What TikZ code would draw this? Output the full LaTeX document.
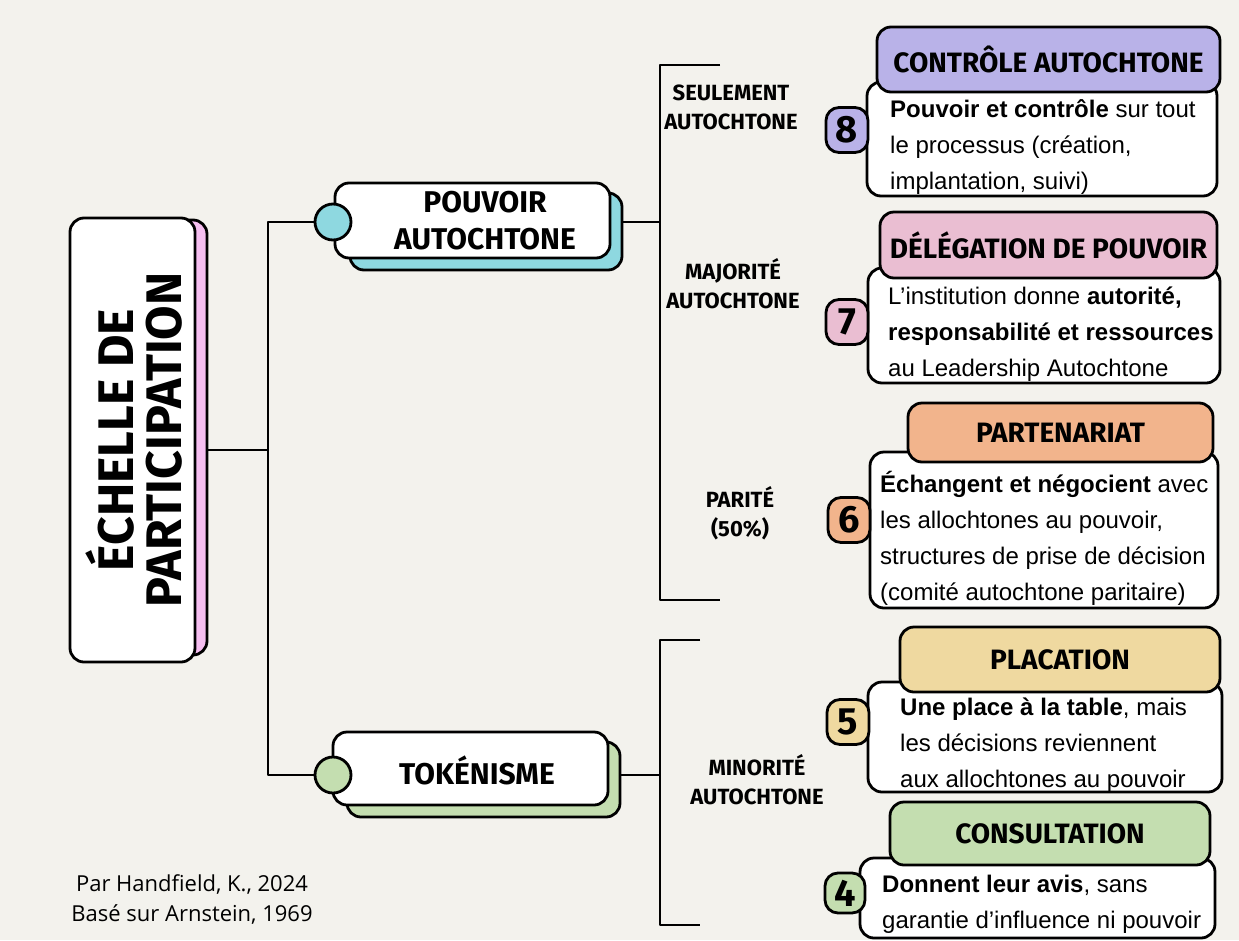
\documentclass[tikz,border=0pt]{standalone}
\usepackage{fontspec}
\setmainfont{Liberation Sans}
\newfontfamily\handfont{Fira Sans}
\newfontfamily\notefont{Open Sans}
\usepackage{tikz}
\usetikzlibrary{positioning}
\definecolor{paper}{RGB}{243,242,237}
\definecolor{violetbox}{RGB}{185,178,232}
\definecolor{pinkbox}{RGB}{234,190,210}
\definecolor{orangebox}{RGB}{242,180,140}
\definecolor{yellowbox}{RGB}{239,217,160}
\definecolor{greenbox}{RGB}{196,222,176}
\definecolor{tealbox}{RGB}{142,216,224}
\definecolor{pinkmain}{RGB}{245,190,240}
\tikzstyle{conn} = [line width=2.2pt, black]

\begin{document}
\begin{tikzpicture}[x=1pt, y=-1pt, line join=round]
	\tikzstyle{backbox}=[draw=black, line width=2.8pt, rounded corners=14pt, inner sep=0pt]
	\tikzstyle{mainbox}=[draw=black, fill=white, line width=2.8pt, rounded corners=14pt, inner sep=0pt]
	\tikzstyle{branchdot}=[circle, draw=black, line width=2.8pt, minimum size=36pt, inner sep=0pt]
	\tikzstyle{branchlabel}=[align=center, inner sep=0pt, font=\handfont\bfseries\fontsize{30}{37}\selectfont]
	\tikzstyle{cardhead}=[draw=black, line width=2.8pt, rounded corners=14pt, inner sep=0pt, font=\handfont\bfseries\fontsize{28}{30}\selectfont]
	\tikzstyle{cardbody}=[draw=black, fill=white, line width=2.8pt, rounded corners=14pt, inner sep=0pt]
	\tikzstyle{cardtext}=[anchor=west, align=left, inner sep=0pt, font=\fontsize{24}{36}\selectfont]
	\tikzstyle{badge}=[draw=black, line width=2.8pt, rounded corners=13pt, minimum width=42pt, minimum height=45pt, inner sep=0pt, font=\handfont\bfseries\fontsize{38}{38}\selectfont]
	\tikzstyle{levellabel}=[align=center, inner sep=0pt, font=\handfont\bfseries\fontsize{22}{29}\selectfont]
	\fill[paper] (0,0) rectangle (1239,940);
	\useasboundingbox (0,0) rectangle (1239,940);

	% echelle
	\node[backbox, fill=pinkmain, minimum width=125, minimum height=435] (mainback) at (144.5,437.5) {};
	\node[mainbox, minimum width=125, minimum height=444] (main) at (132.5,440)
		{\hspace*{14pt}\rotatebox{90}{\handfont\bfseries\fontsize{50}{42}\selectfont\begin{tabular}{@{}c@{}}ÉCHELLE DE\\PARTICIPATION\end{tabular}}};

	% deux branches
	\node[backbox, fill=tealbox, minimum width=272, minimum height=77] (pouvback) at (486,231.5) {};
	\node[mainbox, minimum width=275, minimum height=75] (pouv) at (472.5,220.5) {};
	\node[branchlabel] (pouvlabel) at (485,221) {POUVOIR\\AUTOCHTONE};
	\node[backbox, fill=greenbox, minimum width=273, minimum height=75] (tokback) at (483.5,779.5) {};
	\node[mainbox, minimum width=275, minimum height=73] (tok) at (470.5,768.5) {};
	\node[branchlabel] (toklabel) at (477,770) {TOKÉNISME};

	\coordinate (spine) at (268,450);
	\draw[conn] (spine -| mainback.east) -- (spine);
	\draw[conn] (333,222) -| (spine) |- (333,775);
	\node[branchdot, fill=tealbox] (pouvdot) at (333,222) {};
	\node[branchdot, fill=greenbox] (tokdot) at (333,775) {};

	% accolades
	\coordinate (brk1top) at (660,65);
	\coordinate (brk1bot) at (660,600);
	\coordinate (brk2top) at (660,640);
	\coordinate (brk2bot) at (660,925);
	\draw[conn] ([xshift=60pt]brk1top) -- (brk1top) -- (brk1bot) -- ([xshift=60pt]brk1bot);
	\draw[conn] ([xshift=40pt]brk2top) -- (brk2top) -- (brk2bot) -- ([xshift=40pt]brk2bot);
	\draw[conn] (pouvdot -| pouvback.east) -- (pouvdot -| brk1top);
	\draw[conn] (tokdot -| tokback.east) -- (tokdot -| brk2top);

	\node[levellabel] (lvl8) at (731,107) {SEULEMENT\\AUTOCHTONE};
	\node[levellabel] (lvl7) at (733,284) {MAJORITÉ\\AUTOCHTONE};
	\node[levellabel] (lvl6) at (740,513) {PARITÉ\\(50\%)};
	\node[levellabel] (lvl5) at (757,780) {MINORITÉ\\AUTOCHTONE};

	% echelons 8 a 4
	\node[cardbody, minimum width=350, minimum height=114] (body8) at (1042,139) {};
	\node[cardhead, fill=violetbox, minimum width=343, minimum height=65] (head8) at (1048.5,59.5) {CONTRÔLE AUTOCHTONE};
	\node[cardtext] (txt8) at (890,147) {\textbf{Pouvoir et contrôle} sur tout\\le processus (création,\\implantation, suivi)};
	\node[badge, fill=violetbox] (num8) at (847,130) {8};

	\node[cardbody, minimum width=352, minimum height=115] (body7) at (1044,325.5) {};
	\node[cardhead, fill=pinkbox, minimum width=337, minimum height=66] (head7) at (1048.5,245) {DÉLÉGATION DE POUVOIR};
	\node[cardtext] (txt7) at (888,334) {L’institution donne \textbf{autorité,}\\\textbf{responsabilité et ressources}\\au Leadership Autochtone};
	\node[badge, fill=pinkbox] (num7) at (847,322) {7};

	\node[cardbody, minimum width=348, minimum height=156] (body6) at (1044,530) {};
	\node[cardhead, fill=orangebox, minimum width=305, minimum height=59] (head6) at (1060.5,432.5) {PARTENARIAT};
	\node[cardtext] (txt6) at (880,538) {\textbf{Échangent et négocient} avec\\les allochtones au pouvoir,\\structures de prise de décision\\(comité autochtone paritaire)};
	\node[badge, fill=orangebox] (num6) at (849,520) {6};

	\node[cardbody, minimum width=354, minimum height=110] (body5) at (1045,737) {};
	\node[cardhead, fill=yellowbox, minimum width=320, minimum height=65] (head5) at (1060,659.5) {PLACATION};
	\node[cardtext] (txt5) at (900,745) {\textbf{Une place à la table}, mais\\les décisions reviennent\\aux allochtones au pouvoir};
	\node[badge, fill=yellowbox] (num5) at (848,722) {5};

	\node[cardbody, minimum width=355, minimum height=80] (body4) at (1037.5,898) {};
	\node[cardhead, fill=greenbox, minimum width=320, minimum height=63] (head4) at (1050,833.5) {CONSULTATION};
	\node[cardtext] (txt4) at (882,904) {\textbf{Donnent leur avis}, sans\\garantie d’influence ni pouvoir};
	\node[badge, fill=greenbox, minimum width=40pt, minimum height=40pt] (num4) at (845,893) {4};

	\node[align=center, font=\notefont\fontsize{22}{30}\selectfont] (credit) at (192,899) {Par Handfield, K., 2024\\Basé sur Arnstein, 1969};
\end{tikzpicture}
\end{document}
